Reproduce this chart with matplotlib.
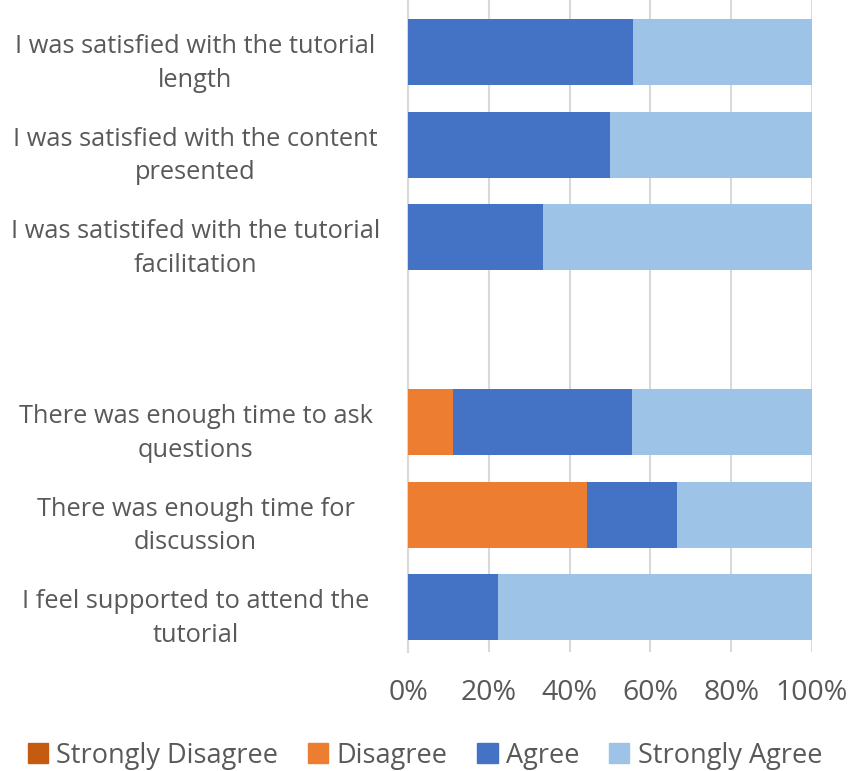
import numpy as np
import matplotlib.pyplot as plt
import matplotlib.transforms as mtransforms
from matplotlib.patches import Patch

# survey statements, top to bottom (blank slot between the two groups)
statements = [
    "I was satisfied with the tutorial\nlength",
    "I was satisfied with the content\npresented",
    "I was satistifed with the tutorial\nfacilitation",
    "",
    "There was enough time to ask\nquestions",
    "There was enough time for\ndiscussion",
    "I feel supported to attend the\ntutorial",
]
strongly_disagree = [0.0, 0.0, 0.0, 0.0, 0.0, 0.0, 0.0]
disagree = [0.0, 0.0, 0.0, 0.0, 11.1, 44.4, 0.0]
agree = [55.6, 50.0, 33.3, 0.0, 44.4, 22.2, 22.2]
strongly_agree = [44.4, 50.0, 66.7, 0.0, 44.4, 33.4, 77.8]

series = ["Strongly Disagree", "Disagree", "Agree", "Strongly Agree"]
colors = ["#C55A11", "#ED7D31", "#4472C4", "#9DC3E6"]

plt.rcParams['font.family'] = ['Open Sans', 'DejaVu Sans']

fig = plt.figure(figsize=(8.5, 7.71), dpi=100)
ax = fig.add_axes([0.48, 0.154, 0.4753, 0.846])

y = np.arange(len(statements))
left = np.zeros(len(statements))
for vals, col in zip([strongly_disagree, disagree, agree, strongly_agree], colors):
    vals = np.array(vals)
    ax.barh(y, vals, left=left, height=0.714, color=col, zorder=3)
    left += vals

ax.set_xlim(0, 100)
ax.set_ylim(6.486, -0.562)
ax.set_xticks(np.arange(0, 101, 20))
ax.set_xticklabels([f"{v}%" for v in range(0, 101, 20)])
ax.set_yticks(y)
ax.set_yticklabels(statements, ha='center', multialignment='center', linespacing=1.45)
ax.tick_params(axis='y', length=0, pad=153, labelsize=18.3, labelcolor='#595959')
ax.tick_params(axis='x', length=0, pad=19, labelsize=20.5, labelcolor='#595959')
# Excel puts the two-line labels a little below the bar centre
shift = mtransforms.ScaledTranslation(0, -4 / 100, fig.dpi_scale_trans)
for lab in ax.get_yticklabels():
    lab.set_transform(lab.get_transform() + shift)
ax.grid(axis='x', color='#D9D9D9', lw=1.5, zorder=0)
for s in ['top', 'right', 'bottom']:
    ax.spines[s].set_visible(False)
ax.spines['left'].set_color('#D9D9D9')
ax.spines['left'].set_linewidth(1.5)

handles = [Patch(color=c, label=s) for s, c in zip(series, colors)]
fig.legend(handles=handles, loc='center', bbox_to_anchor=(0.5, 0.02), ncol=4,
           frameon=False, handlelength=0.75, handleheight=0.75, handletextpad=0.3,
           columnspacing=1.1, prop={'size': 19.5}, labelcolor='#595959')

fig.savefig("out.png", dpi=100)
